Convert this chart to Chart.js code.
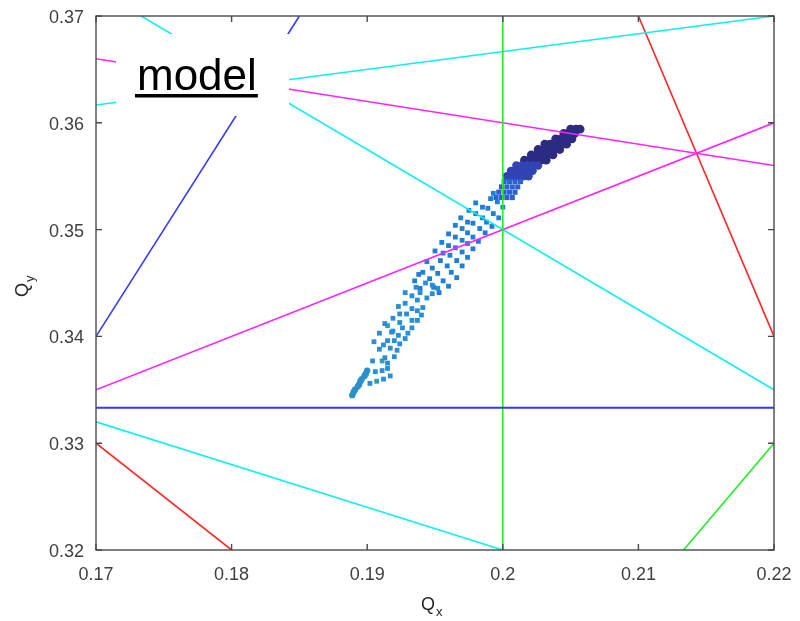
<!DOCTYPE html>
<html><head><meta charset="utf-8">
<script src="https://cdn.jsdelivr.net/npm/chart.js@4"></script>
<style>html,body{margin:0;padding:0;background:#fff}#wrap{width:800px;height:621px;position:relative}</style>
</head><body><div id="wrap"><canvas id="c" width="800" height="621"></canvas></div>
<script>
// ---- axes ----
const xRange = [0.17, 0.22];
const yRange = [0.32, 0.37];
const xTicks = [0.17, 0.18, 0.19, 0.20, 0.21, 0.22];
const yTicks = [0.32, 0.33, 0.34, 0.35, 0.36, 0.37];
const xTickLabels = ['0.17', '0.18', '0.19', '0.2', '0.21', '0.22'];
const yTickLabels = ['0.32', '0.33', '0.34', '0.35', '0.36', '0.37'];
const xTitle = ['Q', 'x'];
const yTitle = ['Q', 'y'];
const boxLabel = 'model';

// ---- resonance lines (endpoints in Qx, Qy) ----
const resBlueH  = [[0.17, 0.33333], [0.22, 0.33333]];
const resBlueD  = [[0.17, 0.34], [0.185, 0.37]];
const resGreenV = [[0.2, 0.32], [0.2, 0.37]];
const resGreenD = [[0.21333, 0.32], [0.22, 0.33]];
const resMagA   = [[0.17, 0.335], [0.22, 0.36]];
const resMagB   = [[0.17, 0.366], [0.22, 0.356]];
const resCyanA  = [[0.17, 0.332], [0.2, 0.32]];
const resCyanB  = [[0.17, 0.36167], [0.22, 0.37]];
const resCyanC  = [[0.17333, 0.37], [0.22, 0.335]];
const resRedA   = [[0.17, 0.33], [0.18, 0.32]];
const resRedB   = [[0.21, 0.37], [0.22, 0.34]];

// ---- tune footprint (Qx, Qy) ----
const footTip = [
  [0.1889,0.3345],[0.1890,0.3348],[0.1891,0.3350],[0.1893,0.3353],[0.1894,0.3355],
  [0.1895,0.3358],[0.1896,0.3360],[0.1898,0.3363],[0.1899,0.3365],[0.1900,0.3368]
];
const footLight = [
  [0.1902,0.3356],[0.1912,0.3360],[0.1917,0.3363],[0.1906,0.3367],[0.1911,0.3368],
  [0.1915,0.3370],[0.1904,0.3377],[0.1915,0.3375],[0.1920,0.3381],[0.1909,0.3388],
  [0.1917,0.3389],[0.1922,0.3387],[0.1924,0.3393],[0.1915,0.3396],[0.1920,0.3396],
  [0.1909,0.3403],[0.1918,0.3404],[0.1923,0.3401],[0.1928,0.3398],[0.1919,0.3405],
  [0.1926,0.3408],[0.1930,0.3403],[0.1933,0.3408],[0.1919,0.3417],[0.1924,0.3421],
  [0.1929,0.3421],[0.1933,0.3415],[0.1937,0.3415],[0.1928,0.3431],[0.1933,0.3426],
  [0.1937,0.3424],[0.1933,0.3438],[0.1937,0.3434],[0.1941,0.3427],[0.1939,0.3441],
  [0.1944,0.3436],[0.1948,0.3440],[0.1943,0.3450],[0.1948,0.3448],[0.1952,0.3445],
  [0.1913,0.3380],[0.1905,0.3395],[0.1913,0.3412],[0.1924,0.3413],[0.1923,0.3428],
  [0.1928,0.3441],[0.1936,0.3446],[0.1940,0.3420],[0.1912,0.3392]
];
const footTeal = [[0.1907,0.3358],[0.1911,0.3377],[0.1915,0.3410]];
const footMid = [
  [0.1939,0.3445],[0.1953,0.3441],[0.1935,0.3452],[0.1938,0.3458],
  [0.1941,0.3460],[0.1946,0.3454],[0.1949,0.3446],
  [0.1948,0.3464],[0.1952,0.3459],[0.1956,0.3452],[0.1960,0.3447],
  [0.1954,0.3471],[0.1959,0.3466],[0.1962,0.3460],[0.1966,0.3455],
  [0.1956,0.3478],[0.1961,0.3476],[0.1966,0.3471],[0.1970,0.3466],
  [0.1960,0.3485],[0.1965,0.3483],[0.1970,0.3479],[0.1974,0.3474],
  [0.1965,0.3493],[0.1970,0.3490],[0.1974,0.3487],[0.1978,0.3482],
  [0.1970,0.3501],[0.1974,0.3497],[0.1978,0.3493],[0.1982,0.3489],
  [0.1974,0.3507],[0.1978,0.3506],[0.1983,0.3501],[0.1987,0.3497],
  [0.1980,0.3515],[0.1985,0.3511],[0.1988,0.3507],[0.1992,0.3503],
  [0.1985,0.3521],[0.1989,0.3520],[0.1993,0.3515],[0.1997,0.3511],
  [0.1991,0.3529],[0.1996,0.3526],[0.2000,0.3521],[0.1993,0.3534],
  [0.1944,0.3470],[0.1950,0.3480],[0.1955,0.3488],[0.1960,0.3496],
  [0.1965,0.3504],[0.1969,0.3511],[0.1975,0.3518],[0.1980,0.3525]
];
const footBlue = [
  [0.1995,0.3530],[0.1999,0.3530],[0.2003,0.3530],[0.2007,0.3530],
  [0.1997,0.3535],[0.2001,0.3535],[0.2005,0.3535],[0.2009,0.3535],
  [0.1999,0.3540],[0.2003,0.3540],[0.2007,0.3540],[0.2011,0.3540],
  [0.2001,0.3545],[0.2005,0.3545],[0.2009,0.3545],[0.2013,0.3545]
];
const footRoyal = [
  [0.2003,0.3550],[0.2007,0.3550],[0.2011,0.3550],[0.2015,0.3550],[0.2019,0.3550],
  [0.2006,0.3555],[0.2010,0.3555],[0.2014,0.3555],[0.2018,0.3555],[0.2022,0.3555],
  [0.2010,0.3560],[0.2014,0.3560],[0.2018,0.3560],[0.2022,0.3560],[0.2026,0.3560]
];
const footNavy = [
  [0.2016,0.3565],[0.2020,0.3565],[0.2024,0.3565],[0.2028,0.3565],[0.2032,0.3565],
  [0.2021,0.3570],[0.2025,0.3570],[0.2029,0.3570],[0.2033,0.3570],[0.2037,0.3570],
  [0.2026,0.3575],[0.2030,0.3575],[0.2034,0.3575],[0.2038,0.3575],[0.2042,0.3575],
  [0.2031,0.3580],[0.2035,0.3580],[0.2039,0.3580],[0.2043,0.3580],[0.2047,0.3580],
  [0.2039,0.3585],[0.2043,0.3585],[0.2047,0.3585],[0.2051,0.3585],
  [0.2045,0.3590],[0.2049,0.3590],[0.2053,0.3590],
  [0.2050,0.3594],[0.2054,0.3594],[0.2057,0.3594]
];

const pts = a => a.map(p => ({x: p[0], y: p[1]}));
const lineDs = (arr, color, w) => ({
  data: pts(arr), showLine: true, borderColor: color, borderWidth: w || 1.6,
  pointRadius: 0, fill: false, order: 0
});
const dotDs = (arr, color, r, style) => ({
  data: pts(arr), showLine: false, backgroundColor: color, borderWidth: 0,
  pointStyle: style || 'rect', pointRadius: r, pointHoverRadius: r, order: 1
});

const FONT = "'Liberation Sans', Arial, sans-serif";

const decor = {
  id: 'decor',
  afterDatasetsDraw(chart) {
    const ctx = chart.ctx;
    const a = chart.chartArea;
    const xs = chart.scales.x, ys = chart.scales.y;
    ctx.save();
    // label box
    ctx.fillStyle = '#ffffff';
    ctx.fillRect(116, 34, 173, 82);
    ctx.fillStyle = '#000000';
    ctx.font = '44px ' + FONT;
    ctx.textBaseline = 'alphabetic';
    ctx.textAlign = 'left';
    ctx.fillText(boxLabel, 137, 90);
    const w = ctx.measureText(boxLabel).width;
    ctx.fillRect(135, 94, w + 3, 3.5);
    // frame
    ctx.strokeStyle = '#4a4a4a';
    ctx.lineWidth = 1.4;
    ctx.strokeRect(a.left, a.top, a.right - a.left, a.bottom - a.top);
    // inward ticks
    ctx.beginPath();
    const tl = 6;
    xTicks.forEach(v => {
      const px = xs.getPixelForValue(v);
      ctx.moveTo(px, a.bottom); ctx.lineTo(px, a.bottom - tl);
      ctx.moveTo(px, a.top); ctx.lineTo(px, a.top + tl);
    });
    yTicks.forEach(v => {
      const py = ys.getPixelForValue(v);
      ctx.moveTo(a.left, py); ctx.lineTo(a.left + tl, py);
      ctx.moveTo(a.right, py); ctx.lineTo(a.right - tl, py);
    });
    ctx.stroke();
    // tick labels
    ctx.fillStyle = '#404040';
    ctx.font = '18px ' + FONT;
    ctx.textBaseline = 'alphabetic';
    ctx.textAlign = 'center';
    xTicks.forEach((v, i) => {
      ctx.fillText(xTickLabels[i], xs.getPixelForValue(v), a.bottom + 30);
    });
    ctx.textAlign = 'right';
    yTicks.forEach((v, i) => {
      ctx.fillText(yTickLabels[i], a.left - 12, ys.getPixelForValue(v) + 7);
    });
    // axis titles
    ctx.textAlign = 'left';
    ctx.fillStyle = '#262626';
    ctx.font = '18px ' + FONT;
    const qw = ctx.measureText(xTitle[0]).width;
    const xStart = (a.left + a.right) / 2 - 14;
    ctx.fillText(xTitle[0], xStart, 610);
    ctx.font = '13px ' + FONT;
    ctx.fillText(xTitle[1], xStart + qw + 1, 616);
    ctx.translate(28, 297);
    ctx.rotate(-Math.PI / 2);
    ctx.font = '18px ' + FONT;
    ctx.fillText(yTitle[0], 0, 0);
    ctx.font = '13px ' + FONT;
    ctx.fillText(yTitle[1], qw + 1, 6);
    ctx.restore();
  }
};

new Chart(document.getElementById('c'), {
  type: 'scatter',
  data: {
    datasets: [
      lineDs(resBlueH, '#3636ff', 2),
      lineDs(resBlueD, '#3636ff'),
      lineDs(resGreenV, '#22ee22'),
      lineDs(resGreenD, '#22ee22'),
      lineDs(resMagA, '#ff22ff'),
      lineDs(resMagB, '#ff22ff'),
      lineDs(resCyanA, '#11eeee'),
      lineDs(resCyanB, '#11eeee'),
      lineDs(resCyanC, '#11eeee'),
      lineDs(resRedA, '#ff2626'),
      lineDs(resRedB, '#ff2626'),
      dotDs(footTip, '#2a90cc', 3.2, 'circle'),
      dotDs(footLight, '#2a8ed4', 3.4),
      dotDs(footTeal, '#2aa0b4', 3.4),
      dotDs(footMid, '#1f7ed8', 3.4),
      dotDs(footBlue, '#2a62d0', 3.6),
      dotDs(footRoyal, '#3044b4', 4.2, 'circle'),
      dotDs(footNavy, '#2c2b82', 4.4, 'circle')
    ]
  },
  options: {
    responsive: false,
    animation: false,
    devicePixelRatio: 1,
    layout: { padding: { top: 16, right: 26, left: 0, bottom: 0 } },
    plugins: { legend: { display: false }, tooltip: { enabled: false } },
    scales: {
      x: {
        type: 'linear', min: xRange[0], max: xRange[1],
        grid: { display: false, drawTicks: false },
        border: { display: false },
        afterBuildTicks: s => { s.ticks = xTicks.map(v => ({ value: v })); },
        afterFit: s => { s.height = 71; },
        ticks: { display: false }
      },
      y: {
        type: 'linear', min: yRange[0], max: yRange[1],
        grid: { display: false, drawTicks: false },
        border: { display: false },
        afterBuildTicks: s => { s.ticks = yTicks.map(v => ({ value: v })); },
        afterFit: s => { s.width = 96; },
        ticks: { display: false }
      }
    }
  },
  plugins: [decor]
});
</script>
</body></html>
